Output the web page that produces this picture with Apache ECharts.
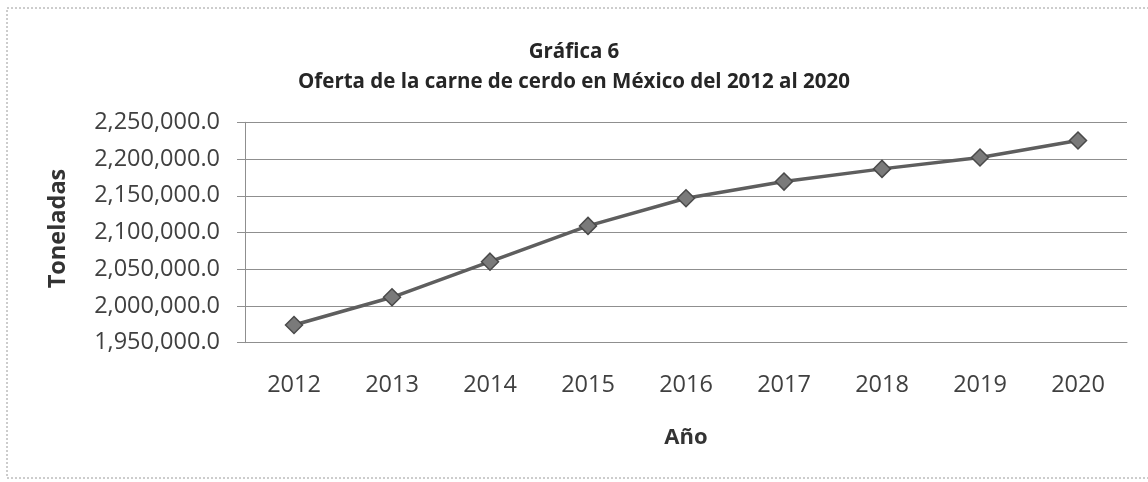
<!DOCTYPE html>
<html>
<head>
<meta charset="utf-8">
<script src="https://cdn.jsdelivr.net/npm/echarts@6/dist/echarts.min.js"></script>
<style>
  html, body { margin: 0; padding: 0; background: #ffffff; }
  #chart { width: 1148px; height: 482px; }
</style>
</head>
<body>
<div id="chart"></div>
<script>
// Oferta de carne de cerdo en México, toneladas por año
const years = ['2012', '2013', '2014', '2015', '2016', '2017', '2018', '2019', '2020'];
const toneladas = [1974100, 2011800, 2060300, 2109000, 2146700, 2169300, 2186600, 2202000, 2225200];
const yMin = 1950000;
const yMax = 2250000;
const yStep = 50000;

const titleText = 'Gráfica 6\nOferta de la carne de cerdo en México del 2012 al 2020';
const FONT = '"Open Sans", "Liberation Sans", sans-serif';

const fmt = v => v.toLocaleString('en-US', { minimumFractionDigits: 1, maximumFractionDigits: 1 });

const chart = echarts.init(document.getElementById('chart'), null, { renderer: 'canvas' });

chart.setOption({
  backgroundColor: '#ffffff',
  animation: false,
  title: {
    text: titleText,
    left: 'center',
    top: 32,
    textStyle: {
      fontFamily: FONT,
      fontWeight: 'bold',
      fontSize: 20.5,
      lineHeight: 30,
      color: '#262626'
    }
  },
  graphic: [{
    type: 'rect',
    shape: { x: 7, y: 8, width: 1150, height: 470 },
    style: { fill: 'none', stroke: '#9a9a9a', lineWidth: 1, lineDash: [2, 2] },
    silent: true
  }],
  grid: {
    left: 245,
    right: 21,
    top: 122.3,
    height: 220.4,
    containLabel: false
  },
  xAxis: {
    type: 'category',
    data: years,
    boundaryGap: true,
    name: 'Año',
    nameLocation: 'middle',
    nameGap: 84,
    nameTextStyle: { fontFamily: FONT, fontWeight: 'bold', fontSize: 22, color: '#333333' },
    axisLine: { show: true, lineStyle: { color: '#8f8f8f', width: 1 } },
    axisTick: { show: false },
    axisLabel: { fontFamily: FONT, fontSize: 23.5, color: '#404040', margin: 31 }
  },
  yAxis: {
    type: 'value',
    min: yMin,
    max: yMax,
    interval: yStep,
    name: 'Toneladas',
    nameLocation: 'middle',
    nameGap: 175,
    nameTextStyle: { fontFamily: FONT, fontWeight: 'bold', fontSize: 23.5, color: '#333333', padding: [0, 0, 0, 8] },
    axisLine: { show: true, lineStyle: { color: '#8f8f8f', width: 1 } },
    axisTick: { show: true, inside: false, length: 8, lineStyle: { color: '#8f8f8f' } },
    splitLine: { show: true, lineStyle: { color: '#8f8f8f', width: 1 } },
    axisLabel: { fontFamily: FONT, fontSize: 23.5, color: '#404040', margin: 25, formatter: fmt }
  },
  series: [{
    type: 'line',
    data: toneladas,
    symbol: 'diamond',
    symbolSize: 17,
    lineStyle: { color: '#5e5e5e', width: 3.5 },
    itemStyle: { color: '#7a7a7a', borderColor: '#4a4a4a', borderWidth: 1.5 },
    z: 3
  }]
});
</script>
</body>
</html>
